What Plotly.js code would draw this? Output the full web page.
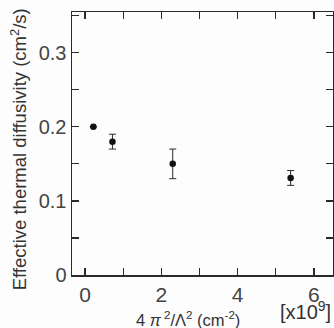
<!DOCTYPE html>
<html><head><meta charset="utf-8">
<script src="https://cdn.plot.ly/plotly-3.0.1.min.js"></script>
<style>html,body{margin:0;padding:0;background:#fff}#c{width:334px;height:328px}</style>
</head><body><div id="c"></div>
<script>
const xVals = [0.22, 0.72, 2.3, 5.39];
const yVals = [0.200, 0.180, 0.150, 0.131];
const yErr = [0.0, 0.010, 0.020, 0.010];
const xTickVals = [0, 2, 4, 6];
const yTickVals = [0, 0.1, 0.2, 0.3];
const yTickText = ['0', '0.1', '0.2', '0.3'];

const ink = '#2a2a2a';
const trace = {
  x: xVals, y: yVals, type: 'scatter', mode: 'markers',
  marker: {color: '#111', size: 6.5},
  error_y: {type: 'data', array: yErr, visible: true, color: ink, thickness: 1, width: 3.5},
  hoverinfo: 'none'
};
const layout = {
  width: 334, height: 328,
  margin: {l: 72, r: 1, t: 12, b: 53},
  paper_bgcolor: '#fdfdfd', plot_bgcolor: '#fdfdfd',
  showlegend: false,
  font: {family: 'Liberation Sans, Arial, sans-serif', color: ink},
  xaxis: {
    range: [-0.34, 6.5], tickvals: xTickVals, ticktext: xTickVals.map(String),
    ticks: 'inside', ticklen: 7, tickwidth: 1.2, tickcolor: ink,
    minor: {dtick: 1, ticks: 'inside', ticklen: 7, tickwidth: 1.2, tickcolor: ink},
    showline: true, linecolor: ink, linewidth: 1.5, mirror: 'allticks',
    showgrid: false, zeroline: false,
    tickfont: {size: 21, color: '#444'}
  },
  yaxis: {
    range: [0, 0.355], tickvals: yTickVals, ticktext: yTickText,
    ticks: 'inside', ticklen: 7, tickwidth: 1.2, tickcolor: ink,
    minor: {dtick: 0.05, tick0: 0, ticks: 'inside', ticklen: 7, tickwidth: 1.2, tickcolor: ink},
    showline: true, linecolor: ink, linewidth: 1.5, mirror: 'allticks',
    showgrid: false, zeroline: false,
    tickfont: {size: 20, color: '#444'}
  },
  annotations: [
    {text: 'Effective thermal diffusivity (cm<sup>2</sup>/s)', xref: 'paper', yref: 'paper',
     x: -0.203, y: 0.478, xanchor: 'center', yanchor: 'middle', textangle: -90, showarrow: false,
     font: {size: 18.5, color: '#333'}},
    {text: '4 <i>π</i><sup> 2</sup>/Λ<sup>2</sup> (cm<sup>-2</sup>)', xref: 'paper', yref: 'paper',
     x: 0.444, y: -0.167, xanchor: 'center', yanchor: 'middle', showarrow: false,
     font: {size: 16.5, color: '#333'}},
    {text: '[x10<sup>9</sup>]', xref: 'paper', yref: 'paper',
     x: 1.0, y: -0.135, xanchor: 'right', yanchor: 'middle', showarrow: false,
     font: {size: 20, color: '#333'}}
  ]
};
Plotly.newPlot('c', [trace], layout, {staticPlot: true});
</script></body></html>
